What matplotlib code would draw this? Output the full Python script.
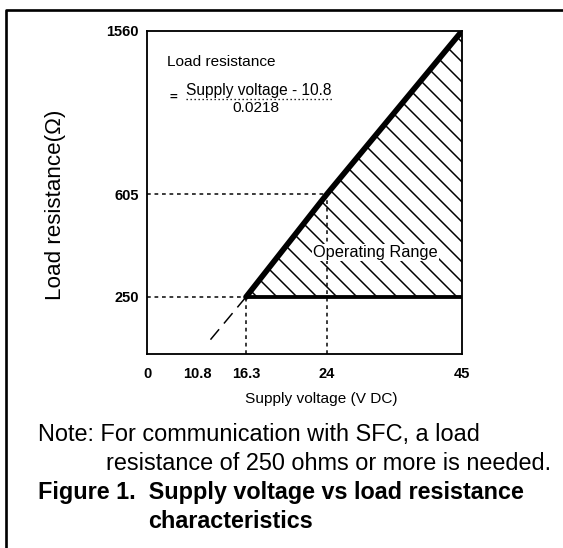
import numpy as np
import matplotlib.pyplot as plt
from matplotlib.patches import Polygon
from matplotlib.lines import Line2D

plt.rcParams['font.family'] = ['Liberation Sans', 'DejaVu Sans']
plt.rcParams['hatch.linewidth'] = 0.9

# data
x_ticks = [0, 10.8, 16.3, 24, 45]
y_ticks = [250, 605, 1560]
volt_op = [16.3, 24, 45]           # upper boundary of operating range
res_op = [250, 605, 1560]
volt_ext = [16.3, 11.8]            # dashed extension towards 10.8 V
res_ext = [250, 39]
min_res = 250

# the printed axes are not linear: breakpoints (value -> pixel offset)
x_brk_val = [0, 10.8, 16.3, 24, 45]
x_brk_px = [0, 50, 99, 180, 315]
y_brk_val = [0, 250, 605, 1560]
y_brk_px = [0, 57, 160, 323]

W, H, DPI = 563, 548, 120
fig = plt.figure(figsize=(W / DPI, H / DPI), dpi=DPI)


def fx(x):
    return x / W


def fy(y):
    return 1 - y / H


ax = fig.add_axes([fx(147), fy(354), 315 / W, 323 / H])
ax.set_xscale('function', functions=(lambda v: np.interp(v, x_brk_val, x_brk_px),
                                     lambda p: np.interp(p, x_brk_px, x_brk_val)))
ax.set_yscale('function', functions=(lambda v: np.interp(v, y_brk_val, y_brk_px),
                                     lambda p: np.interp(p, y_brk_px, y_brk_val)))
ax.set_xlim(0, 45)
ax.set_ylim(0, 1560)

# hatched operating range
poly = Polygon(list(zip(volt_op, res_op)) + [(volt_op[-1], min_res)], closed=True,
               facecolor='none', edgecolor='black', linewidth=0, hatch='\\\\')
ax.add_patch(poly)

ax.plot(volt_op, res_op, color='black', lw=3.4, solid_capstyle='round', zorder=4)
ax.plot([volt_op[0], volt_op[-1]], [min_res, min_res], color='black', lw=2.3, zorder=4)
ax.plot(volt_ext, res_ext, color='black', lw=0.9, dashes=(9, 5))

# guide lines
for v, r in [(16.3, 250), (24, 605)]:
    ax.plot([0, v], [r, r], color='black', lw=0.9, dashes=(2.5, 2.5))
    ax.plot([v, v], [0, r], color='black', lw=0.9, dashes=(2.5, 2.5))

ax.set_xticks(x_ticks)
ax.set_xticklabels(['0', '10.8', '16.3', '24', '45'])
ax.set_yticks(y_ticks)
ax.set_yticklabels([str(t) for t in y_ticks])
ax.minorticks_off()
ax.tick_params(length=0, labelsize=8.8)
ax.tick_params(axis='x', pad=8)
ax.tick_params(axis='y', pad=5)
for lab in ax.get_xticklabels() + ax.get_yticklabels():
    lab.set_fontweight('bold')
for s in ax.spines.values():
    s.set_linewidth(1.1)

ax.text(31.5, 405, 'Operating Range', fontsize=9.8, ha='center', va='center',
        bbox=dict(facecolor='white', edgecolor='none', pad=0.6), zorder=3)

# formula
fig.text(fx(167), fy(62), 'Load resistance', fontsize=9.2, va='center')
fig.text(fx(169), fy(98), '=', fontsize=8, fontweight='bold', va='center')
fig.text(fx(186), fy(90), 'Supply voltage - 10.8', fontsize=9.3, va='center')
fig.text(fx(256), fy(108), '0.0218', fontsize=9.2, va='center', ha='center')
fig.add_artist(Line2D([fx(186), fx(332)], [fy(99), fy(99)], color='black', lw=0.8,
                      dashes=(1, 2)))

fig.text(fx(55), fy(205), 'Load resistance(\u03a9)', fontsize=13.4, rotation=90,
         ha='center', va='center')
fig.text(fx(321), fy(399), 'Supply voltage (V DC)', fontsize=9.2, ha='center', va='center')

fig.text(fx(38), fy(434), 'Note: For communication with SFC, a load', fontsize=14.1, va='center')
fig.text(fx(106), fy(463), 'resistance of 250 ohms or more is needed.', fontsize=14.1, va='center')
fig.text(fx(38), fy(492), 'Figure 1.  Supply voltage vs load resistance', fontsize=14,
         fontweight='bold', va='center')
fig.text(fx(148), fy(521), 'characteristics', fontsize=14, fontweight='bold', va='center')

# page border
fig.add_artist(Line2D([fx(6), fx(6), fx(563)], [fy(548), fy(10), fy(10)], color='black', lw=1.6))

fig.savefig('out.png', dpi=DPI)
